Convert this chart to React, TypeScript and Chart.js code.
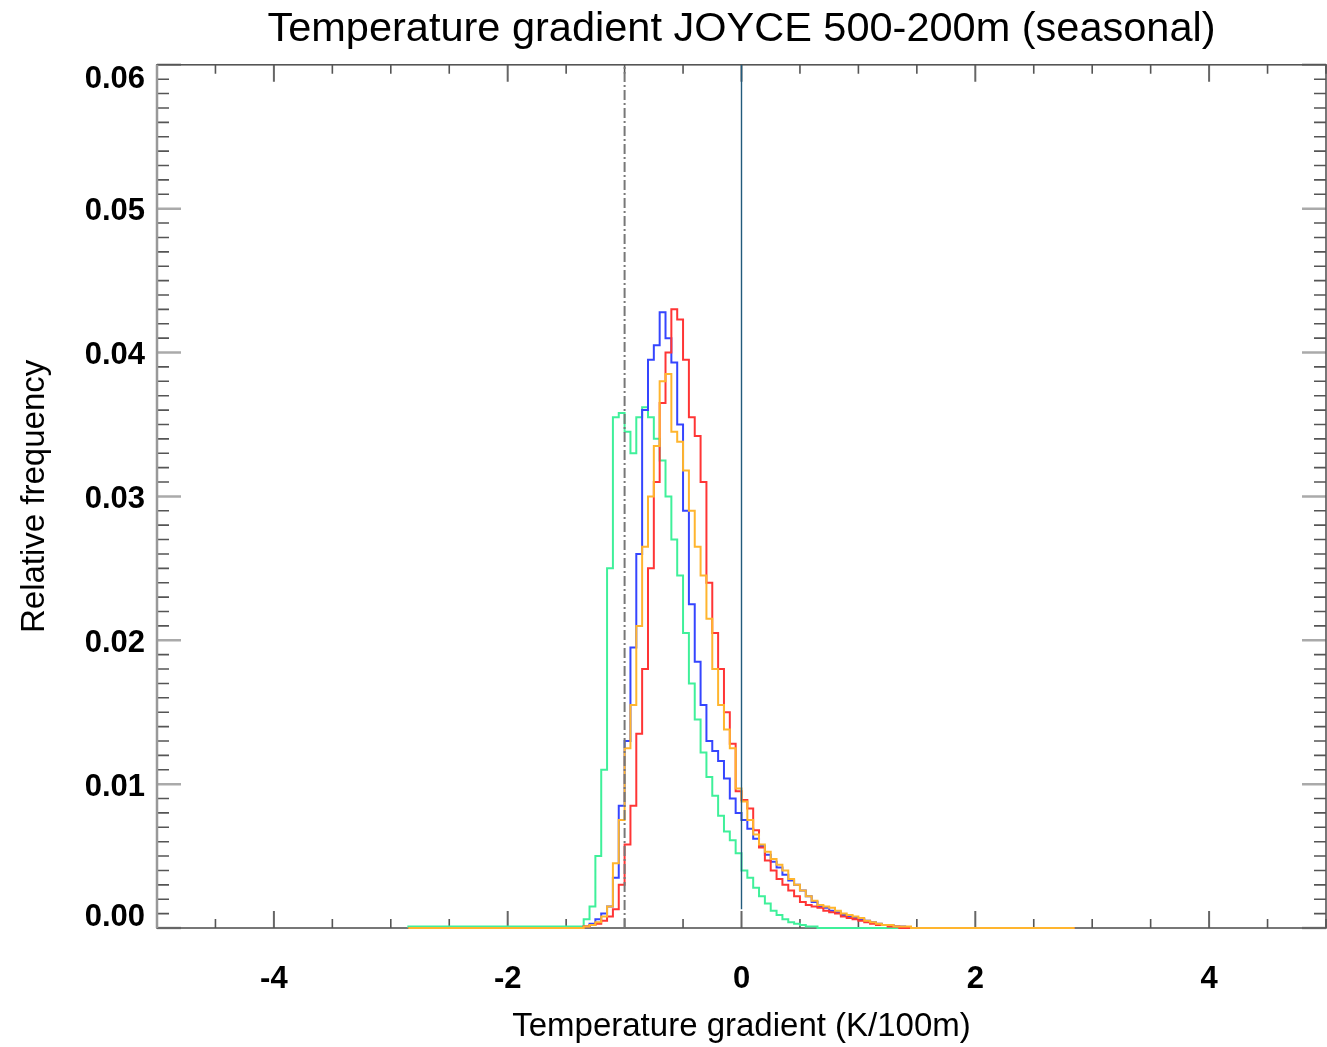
import React, { useEffect, useRef } from 'react';
import { Chart, registerables } from 'chart.js';

Chart.register(...registerables);

const TITLE = 'Temperature gradient JOYCE 500-200m (seasonal)';
const X_TITLE = 'Temperature gradient (K/100m)';
const Y_TITLE = 'Relative frequency';

const X_TICKS = [-4, -2, 0, 2, 4];
const Y_TICKS = [0, 0.01, 0.02, 0.03, 0.04, 0.05, 0.06];

const X_RANGE = [-5, 5];
const Y_RANGE = [0, 0.06];
const DATA_RANGE = [-2.85, 2.85];
const BIN_WIDTH = 0.05;

const BIN_STARTS = [
  -1.35, -1.3, -1.25, -1.2, -1.15, -1.1, -1.05, -1.0, -0.95, -0.9,
  -0.85, -0.8, -0.75, -0.7, -0.65, -0.6, -0.55, -0.5, -0.45, -0.4,
  -0.35, -0.3, -0.25, -0.2, -0.15, -0.1, -0.05, 0.0, 0.05, 0.1,
  0.15, 0.2, 0.25, 0.3, 0.35, 0.4, 0.45, 0.5, 0.55, 0.6,
  0.65, 0.7, 0.75, 0.8, 0.85, 0.9, 0.95, 1.0, 1.05, 1.1,
  1.15, 1.2, 1.25, 1.3, 1.35, 1.4, 1.45,
];

const GREEN = [
  0.0001, 0.0006, 0.0015, 0.005, 0.011, 0.025, 0.0355, 0.0358, 0.0345, 0.033,
  0.0355, 0.0362, 0.0355, 0.034, 0.0325, 0.03, 0.027, 0.0245, 0.0205, 0.017,
  0.0145, 0.0122, 0.0105, 0.0092, 0.0078, 0.0067, 0.0061, 0.0052, 0.004, 0.0035,
  0.0028, 0.0022, 0.0017, 0.0012, 0.0009, 0.0006, 0.0004, 0.0003, 0.0002, 0.0001,
  0.0001, 0, 0, 0, 0, 0, 0, 0, 0, 0,
  0, 0, 0, 0, 0, 0, 0,
];

const BLUE = [
  0, 0.0001, 0.0003, 0.0006, 0.001, 0.0015, 0.0035, 0.0085, 0.013, 0.0195,
  0.026, 0.036, 0.0395, 0.0405, 0.0428, 0.041, 0.0393, 0.035, 0.029, 0.0225,
  0.0185, 0.0155, 0.013, 0.0123, 0.0116, 0.0104, 0.009, 0.008, 0.0075, 0.0069,
  0.0062, 0.0057, 0.0051, 0.0046, 0.0042, 0.0037, 0.0033, 0.003, 0.0026, 0.0022,
  0.0018, 0.0015, 0.0014, 0.0012, 0.0011, 0.0009, 0.0008, 0.0007, 0.0006, 0.0005,
  0.0004, 0.0003, 0.0002, 0.0002, 0.0001, 0.0001, 0,
];

const RED = [
  0, 0.0001, 0.0002, 0.0003, 0.0005, 0.0008, 0.0013, 0.003, 0.0058, 0.0085,
  0.0135, 0.018, 0.025, 0.031, 0.0365, 0.04, 0.043, 0.0423, 0.0395, 0.0355,
  0.0342, 0.031, 0.024, 0.0205, 0.018, 0.015, 0.0128, 0.0095, 0.0089, 0.0083,
  0.0068, 0.0056, 0.0047, 0.004, 0.0034, 0.003, 0.0026, 0.0022, 0.0018, 0.0016,
  0.0015, 0.0014, 0.0012, 0.0011, 0.001, 0.0008, 0.0007, 0.0006, 0.0005, 0.0004,
  0.0003, 0.0002, 0.0002, 0.0001, 0.0001, 0, 0,
];

const ORANGE = [
  0, 0.0001, 0.0002, 0.0004, 0.0008, 0.0015, 0.0045, 0.0075, 0.0125, 0.0155,
  0.021, 0.0265, 0.03, 0.0335, 0.038, 0.0385, 0.0345, 0.0338, 0.0318, 0.029,
  0.0265, 0.0245, 0.0215, 0.018, 0.0155, 0.0138, 0.0125, 0.0097, 0.0088, 0.0075,
  0.0065, 0.0058, 0.0053, 0.0048, 0.0044, 0.004, 0.0034, 0.003, 0.0026, 0.0022,
  0.0019, 0.0016, 0.0015, 0.0014, 0.0012, 0.001, 0.0009, 0.0008, 0.0007, 0.0005,
  0.0004, 0.0003, 0.0002, 0.0002, 0.0001, 0.0001, 0.0001,
];

const REF_DASHDOT_X = -1;
const REF_ZERO_X = 0;
const REF_ZERO_Y_START = 0.0013;

const FONT = "'Liberation Sans', Arial, Helvetica, sans-serif";

function toSteps(vals: number[]) {
  const pts: { x: number; y: number }[] = [{ x: DATA_RANGE[0], y: 0 }];
  BIN_STARTS.forEach((b, i) => pts.push({ x: b, y: vals[i] }));
  pts.push({ x: BIN_STARTS[BIN_STARTS.length - 1] + BIN_WIDTH, y: 0 });
  pts.push({ x: DATA_RANGE[1], y: 0 });
  return pts;
}

const boxPlugin = {
  id: 'idlBox',
  beforeDraw(chart: any) {
    const y = chart.scales.y;
    const items = y.getLabelItems(chart.chartArea);
    const n = y.ticks.length;
    items.forEach((it: any, i: number) => {
      let off = 3;
      if (i === 0) off = -11;
      if (i === n - 1) off = 15;
      it.options.translation[1] = y.getPixelForValue(y.ticks[i].value) + off;
    });
  },
  beforeDatasetsDraw(chart: any) {
    const { ctx, chartArea } = chart;
    const { left, right, top, bottom } = chartArea;
    const xs = chart.scales.x;
    const ys = chart.scales.y;
    ctx.save();
    for (let i = -10; i <= 10; i++) {
      const v = i * 0.5;
      const px = xs.getPixelForValue(v);
      const major = X_TICKS.includes(v);
      const len = major ? 17 : 9;
      ctx.strokeStyle = major ? '#666' : '#555';
      ctx.lineWidth = major ? 2 : 1.6;
      ctx.beginPath();
      ctx.moveTo(px, bottom);
      ctx.lineTo(px, bottom - len);
      ctx.moveTo(px, top);
      ctx.lineTo(px, top + len);
      ctx.stroke();
    }
    for (let i = 0; i <= 60; i++) {
      const v = i * 0.001;
      const py = ys.getPixelForValue(v);
      const major = i % 10 === 0;
      const len = major ? 24 : 12;
      ctx.strokeStyle = major ? '#aaa' : '#555';
      ctx.lineWidth = major ? 2.5 : 1.6;
      ctx.beginPath();
      ctx.moveTo(left, py);
      ctx.lineTo(left + len, py);
      ctx.moveTo(right, py);
      ctx.lineTo(right - len, py);
      ctx.stroke();
    }
    ctx.strokeStyle = '#555';
    ctx.lineWidth = 1.6;
    ctx.strokeRect(left, top, right - left, bottom - top);
    ctx.strokeStyle = '#999';
    ctx.lineWidth = 2.5;
    ctx.beginPath();
    ctx.moveTo(left, top);
    ctx.lineTo(left, bottom);
    ctx.stroke();
    ctx.restore();
  },
};

export default function App() {
  const ref = useRef<HTMLCanvasElement | null>(null);

  useEffect(() => {
    document.body.style.margin = '0';
    const canvas = ref.current;
    if (!canvas) return;
    const line = (label: string, vals: number[], color: string, order: number) => ({
      label,
      data: toSteps(vals),
      borderColor: color,
      backgroundColor: color,
      borderWidth: 2,
      pointRadius: 0,
      stepped: 'after' as const,
      fill: false,
      clip: 4,
      order,
    });
    const chart = new Chart(canvas, {
      type: 'line',
      data: {
        datasets: [
          {
            label: 'zero',
            data: [
              { x: REF_ZERO_X, y: REF_ZERO_Y_START },
              { x: REF_ZERO_X, y: Y_RANGE[1] },
            ],
            borderColor: '#225b7c',
            borderWidth: 1.4,
            pointRadius: 0,
            fill: false,
            order: 1,
          },
          {
            label: 'dashdot',
            data: [
              { x: REF_DASHDOT_X, y: Y_RANGE[0] },
              { x: REF_DASHDOT_X, y: Y_RANGE[1] },
            ],
            borderColor: '#777',
            borderWidth: 2,
            borderDash: [10, 3, 2, 3],
            pointRadius: 0,
            fill: false,
            order: 2,
          },
          line('orange', ORANGE, '#ffb52e', 3),
          line('red', RED, '#ff3535', 4),
          line('blue', BLUE, '#3545ff', 5),
          line('green', GREEN, '#3ff09a', 6),
        ] as any,
      },
      options: {
        animation: false,
        responsive: false,
        devicePixelRatio: 1,
        layout: { padding: { left: 0, right: 1, top: 0, bottom: 0 } },
        plugins: {
          legend: { display: false },
          tooltip: { enabled: false },
          title: {
            display: true,
            text: TITLE,
            fullSize: false,
            color: '#000',
            font: { family: FONT, size: 41.5, weight: 'normal', lineHeight: 1.2 },
            padding: { top: 5, bottom: 10 },
          },
        },
        scales: {
          x: {
            type: 'linear',
            min: X_RANGE[0],
            max: X_RANGE[1],
            grid: { display: false, drawTicks: false },
            border: { display: false },
            afterBuildTicks: (s: any) => {
              s.ticks = X_TICKS.map((v) => ({ value: v }));
            },
            afterFit: (s: any) => {
              s.height = 119;
            },
            ticks: {
              color: '#000',
              padding: 33,
              maxRotation: 0,
              autoSkip: false,
              font: { family: FONT, size: 31, weight: 'bold' },
              callback: (v: any) => String(v),
            },
            title: {
              display: true,
              text: X_TITLE,
              color: '#000',
              font: { family: FONT, size: 33, lineHeight: 1.2 },
              padding: { top: 0, bottom: 0 },
            },
          },
          y: {
            type: 'linear',
            min: Y_RANGE[0],
            max: Y_RANGE[1],
            grid: { display: false, drawTicks: false },
            border: { display: false },
            afterBuildTicks: (s: any) => {
              s.ticks = Y_TICKS.map((v) => ({ value: v }));
            },
            afterFit: (s: any) => {
              s.width = 157;
            },
            ticks: {
              color: '#000',
              padding: 12,
              autoSkip: false,
              font: { family: FONT, size: 31, weight: 'bold' },
              callback: (v: any) => Number(v).toFixed(2),
            },
            title: {
              display: true,
              text: Y_TITLE,
              color: '#000',
              font: { family: FONT, size: 33, lineHeight: 1.2 },
              padding: { top: 15, bottom: 0 },
            },
          },
        },
      },
      plugins: [boxPlugin],
    });
    return () => chart.destroy();
  }, []);

  return (
    <canvas
      ref={ref}
      width={1327}
      height={1047}
      style={{ display: 'block', width: 1327, height: 1047 }}
    />
  );
}
